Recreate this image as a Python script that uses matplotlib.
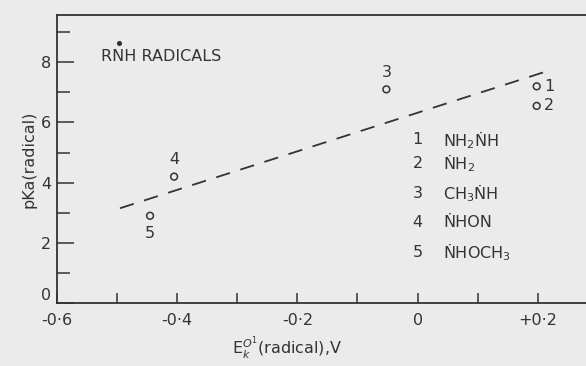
import numpy as np
import matplotlib.pyplot as plt
from matplotlib.ticker import MultipleLocator

# redox potential of the radical vs pKa of the radical
e_radical = [0.198, 0.198, -0.052, -0.405, -0.445]
pka_radical = [7.2, 6.55, 7.1, 4.2, 2.9]
point_ids = ['1', '2', '3', '4', '5']

# least-squares line through the points (end points)
fit_x = [-0.495, 0.21]
fit_y = [3.15, 7.67]

species = [r'NH$_2$ṄH', r'ṄH$_2$', r'CH$_3$ṄH', 'ṄHON', r'ṄHOCH$_3$']
species_y = [5.42, 4.65, 3.65, 2.66, 1.69]

xtick_vals = [-0.6, -0.4, -0.2, 0.0, 0.2]
xtick_text = ['-0·6', '-0·4', '-0·2', '0', '+0·2']
ytick_vals = [0, 2, 4, 6, 8]

ink = '#333333'
bg = '#ebebeb'
fs = 11.5

plt.rcParams['font.family'] = ['DejaVu Sans']
plt.rcParams['mathtext.fontset'] = 'dejavusans'

fig = plt.figure(figsize=(5.86, 3.66), dpi=100, facecolor=bg)
ax = fig.add_axes([0.097, 0.172, 0.903, 0.787], facecolor=bg)

ax.plot(fit_x, fit_y, color=ink, lw=1.3, dashes=(8, 6))
ax.scatter(e_radical, pka_radical, s=24, facecolors='none', edgecolors=ink, linewidths=1.1, zorder=3)

# point numbers
offsets = {'1': (9, 0), '2': (9, 0), '3': (0, 12), '4': (0, 12), '5': (0, -13)}
for x, y, n in zip(e_radical, pka_radical, point_ids):
    ax.annotate(n, (x, y), xytext=offsets[n], textcoords='offset points',
                ha='center', va='center', fontsize=fs, color=ink)

# title with radical dot over the N
ax.text(-0.527, 8.2, 'RNH RADICALS', fontsize=fs, color=ink, va='center', ha='left')
ax.scatter([-0.497], [8.65], s=7, color=ink)

# key to the numbered species
for n, label, y in zip(point_ids, species, species_y):
    ax.text(0.0, y, n, fontsize=fs, color=ink, ha='center', va='center')
    ax.text(0.043, y, label, fontsize=fs, color=ink, ha='left', va='center')

ax.set_xlim(-0.6, 0.28)
ax.set_ylim(0, 9.57)
ax.set_xticks(xtick_vals)
ax.set_xticklabels(xtick_text)
ax.set_yticks(ytick_vals)
ax.xaxis.set_minor_locator(MultipleLocator(0.1))
ax.yaxis.set_minor_locator(MultipleLocator(1))
ax.tick_params(axis='x', which='both', direction='in', length=7, width=1.1,
               colors=ink, labelsize=fs, pad=7)
ax.tick_params(axis='y', which='major', direction='in', length=12, width=1.1,
               colors=ink, labelsize=fs, pad=4)
ax.tick_params(axis='y', which='minor', direction='in', length=9, width=1.1, colors=ink)
# lift the "0" on the y axis clear of the x labels
ax.get_yticklabels()[0].set_verticalalignment('bottom')

for side in ['left', 'bottom', 'top']:
    ax.spines[side].set_color(ink)
    ax.spines[side].set_linewidth(1.3)
ax.spines['right'].set_visible(False)

ax.set_ylabel('pKa(radical)', fontsize=fs, color=ink, labelpad=3)
ax.set_xlabel(r'E$_k^{O^1}$(radical),V', fontsize=fs, color=ink, labelpad=1)
ax.xaxis.set_label_coords(0.435, -0.11)

fig.savefig('out.png', dpi=100, facecolor=bg)
